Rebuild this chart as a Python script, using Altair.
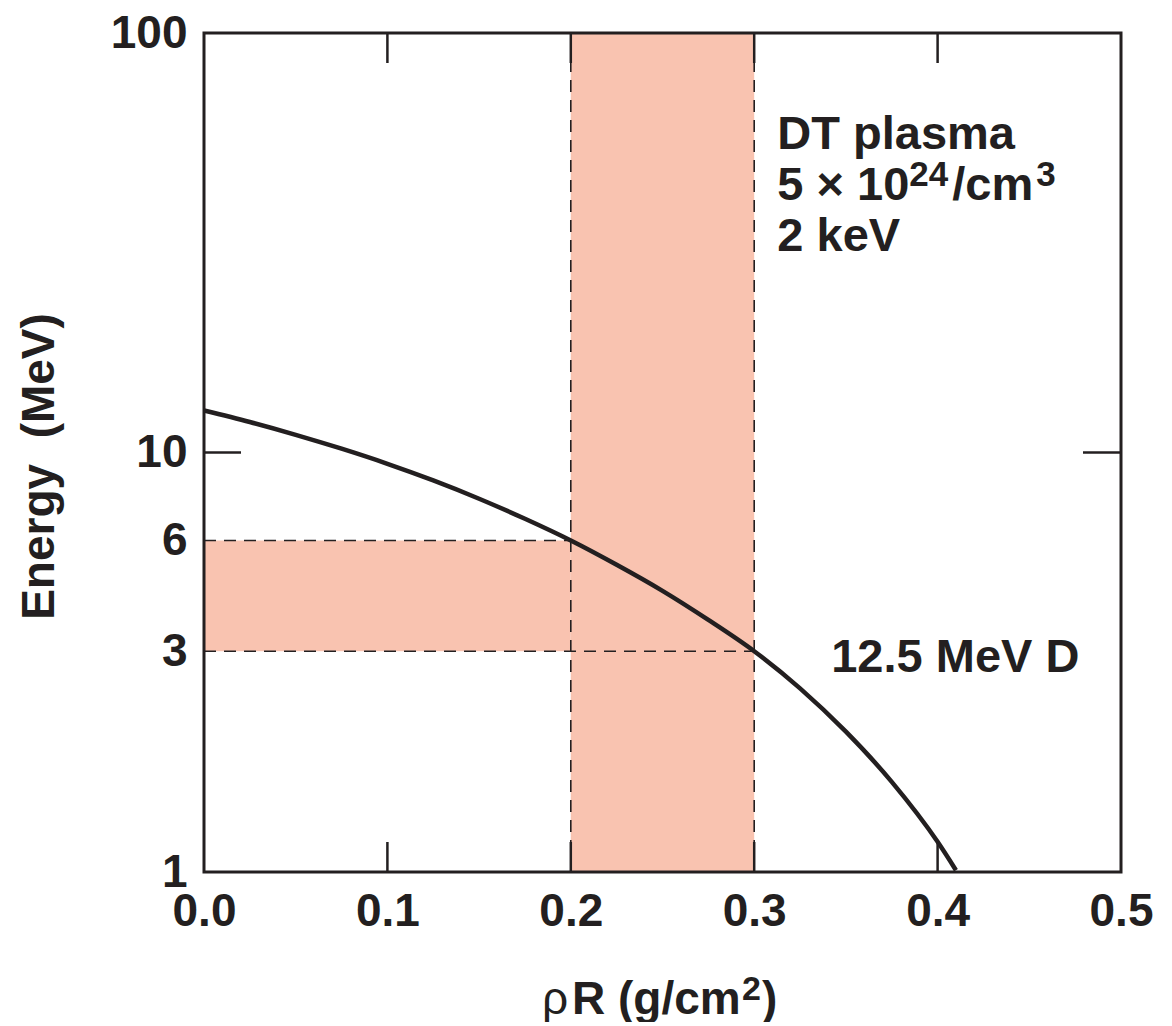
import altair as alt
import pandas as pd

# ---- data ----
rho_R = [0.0, 0.025, 0.05, 0.075, 0.10, 0.125, 0.15, 0.175, 0.20, 0.225, 0.25, 0.275,
         0.30, 0.325, 0.35, 0.375, 0.40, 0.41]
energy = [12.59, 11.82, 11.02, 10.21, 9.40, 8.58, 7.76, 6.95, 6.17, 5.40, 4.68, 3.99,
          3.36, 2.74, 2.16, 1.64, 1.18, 1.01]

x_ticks = [0.0, 0.1, 0.2, 0.3, 0.4, 0.5]
inner_x_ticks = [0.1, 0.2, 0.3, 0.4]
y_tick_values = [1, 3.36, 6.17, 10, 100]
y_tick_labels = ["1", "3", "6", "10", "100"]
inner_y_ticks = [10]

x_domain = [0.0, 0.5]
y_domain = [1, 100]
rho_band = [0.2, 0.3]
energy_band = [3.36, 6.17]

plasma_lines = ["DT plasma", "2 keV"]
plasma_line_x = [0.3126, 0.3126]
plasma_line_y = [53.0, 30.27]
density_parts = ["5 × 10", "24", "/cm", "3"]
density_x = 0.3126
density_y = 40.06
curve_label = "12.5 MeV D"
curve_label_x = 0.342
curve_label_y = 3.0
x_title_parts = ["ρ", "R (g/cm", "2", ")"]
y_title = "Energy\u00a0 (MeV)"

INK = "#231f20"
FILL = "#f9c3b0"
FONT = "Liberation Sans"
W, H = 917, 839

label_expr = " : ".join(
    f"abs(datum.value - {v}) < 1e-6 ? '{t}'" for v, t in zip(y_tick_values, y_tick_labels)
) + " : ''"

xs = alt.Scale(domain=x_domain, nice=False, zero=False)
ys = alt.Scale(type="log", domain=y_domain, nice=False)

x_axis = alt.Axis(
    values=x_ticks, format=".1f", ticks=False, domain=False, grid=False,
    labelFont=FONT, labelFontSize=46, labelFontWeight="bold", labelColor=INK,
    labelPadding=17, labelOverlap=False, labelFlush=False,
    title=None,
)
y_axis = alt.Axis(
    values=y_tick_values, labelExpr=label_expr, ticks=False, domain=False, grid=False,
    labelFont=FONT, labelFontSize=46, labelFontWeight="bold", labelColor=INK,
    labelPadding=17, labelOverlap=False, labelFlush=False,
    title=y_title, titleFont=FONT, titleFontSize=46, titleFontWeight="bold",
    titleColor=INK, titleAngle=270, titleAlign="center", titleBaseline="alphabetic",
    titleX=-151, titleY=433,
)


def X(f):
    return alt.X(f, type="quantitative", scale=xs, axis=x_axis)


def Y(f):
    return alt.Y(f, type="quantitative", scale=ys, axis=y_axis)


vband_df = pd.DataFrame({"x": [rho_band[0]], "x2": [rho_band[1]], "y": [y_domain[0]], "y2": [y_domain[1]]})
hband_df = pd.DataFrame({"x": [x_domain[0]], "x2": [rho_band[0]], "y": [energy_band[0]], "y2": [energy_band[1]]})

vband = alt.Chart(vband_df).mark_rect(color=FILL).encode(x=X("x"), x2="x2", y=Y("y"), y2="y2")
hband = alt.Chart(hband_df).mark_rect(color=FILL).encode(x=X("x"), x2="x2", y=Y("y"), y2="y2")

vdash_df = pd.DataFrame({"x": rho_band, "y": [y_domain[0]] * 2, "y2": [y_domain[1]] * 2})
vdash = alt.Chart(vdash_df).mark_rule(color=INK, strokeWidth=1.6, strokeDash=[12, 8]).encode(
    x=X("x"), y=Y("y"), y2="y2")

hdash_df = pd.DataFrame({"y": [energy_band[1], energy_band[0]], "x": [x_domain[0]] * 2, "x2": rho_band})
hdash = alt.Chart(hdash_df).mark_rule(color=INK, strokeWidth=1.6, strokeDash=[12, 8]).encode(
    x=X("x"), x2="x2", y=Y("y"))

curve_df = pd.DataFrame({"rho": rho_R, "E": energy})
curve = alt.Chart(curve_df).mark_line(color=INK, strokeWidth=4.5, interpolate="monotone").encode(
    x=X("rho"), y=Y("E"))

xt_df = pd.DataFrame({"x": inner_x_ticks})
top_ticks = alt.Chart(xt_df).mark_tick(color=INK, orient="vertical", size=30, thickness=2.5, opacity=1).encode(
    x=X("x"), y=alt.value(15))
bot_ticks = alt.Chart(xt_df).mark_tick(color=INK, orient="vertical", size=30, thickness=2.5, opacity=1).encode(
    x=X("x"), y=alt.value(H - 15))

yt_df = pd.DataFrame({"y": inner_y_ticks})
left_ticks = alt.Chart(yt_df).mark_tick(color=INK, orient="horizontal", size=37, thickness=2.5, opacity=1).encode(
    y=Y("y"), x=alt.value(18.5))
right_ticks = alt.Chart(yt_df).mark_tick(color=INK, orient="horizontal", size=38, thickness=2.5, opacity=1).encode(
    y=Y("y"), x=alt.value(W - 19))

frame_df = pd.DataFrame({"x": [x_domain[0]], "x2": [x_domain[1]], "y": [y_domain[0]], "y2": [y_domain[1]]})
frame = alt.Chart(frame_df).mark_rect(fill=None, stroke=INK, strokeWidth=3).encode(
    x=X("x"), x2="x2", y=Y("y"), y2="y2")

txt_style = dict(align="left", baseline="alphabetic", font=FONT, color=INK)

plasma_df = pd.DataFrame({"x": plasma_line_x, "y": plasma_line_y, "t": plasma_lines})
plasma_txt = alt.Chart(plasma_df).mark_text(fontSize=47, fontWeight="bold", **txt_style).encode(
    x=X("x"), y=Y("y"), text="t:N")


def dens_df(i):
    return pd.DataFrame({"x": [density_x], "y": [density_y], "t": [density_parts[i]]})


dens0 = alt.Chart(dens_df(0)).mark_text(fontSize=47, fontWeight="bold", **txt_style).encode(
    x=X("x"), y=Y("y"), text="t:N")
dens1 = alt.Chart(dens_df(1)).mark_text(fontSize=35, fontWeight="bold", dx=132, dy=-14, **txt_style).encode(
    x=X("x"), y=Y("y"), text="t:N")
dens2 = alt.Chart(dens_df(2)).mark_text(fontSize=47, fontWeight="bold", dx=175, **txt_style).encode(
    x=X("x"), y=Y("y"), text="t:N")
dens3 = alt.Chart(dens_df(3)).mark_text(fontSize=35, fontWeight="bold", dx=259, dy=-14, **txt_style).encode(
    x=X("x"), y=Y("y"), text="t:N")

clabel_df = pd.DataFrame({"x": [curve_label_x], "y": [curve_label_y], "t": [curve_label]})
clabel = alt.Chart(clabel_df).mark_text(fontSize=47, fontWeight="bold", **txt_style).encode(
    x=X("x"), y=Y("y"), text="t:N")


# x-axis title built from pieces (regular rho, bold rest, superscript 2)
def xt_df(i):
    return pd.DataFrame({"t": [x_title_parts[i]]})


XT_X, XT_Y = 338, H + 142
xt0 = alt.Chart(xt_df(0)).mark_text(fontSize=46, fontWeight="normal", **txt_style).encode(
    x=alt.value(XT_X), y=alt.value(XT_Y), text="t:N")
xt1 = alt.Chart(xt_df(1)).mark_text(fontSize=46, fontWeight="bold", dx=30, **txt_style).encode(
    x=alt.value(XT_X), y=alt.value(XT_Y), text="t:N")
xt2 = alt.Chart(xt_df(2)).mark_text(fontSize=34, fontWeight="bold", dx=200, dy=-14, **txt_style).encode(
    x=alt.value(XT_X), y=alt.value(XT_Y), text="t:N")
xt3 = alt.Chart(xt_df(3)).mark_text(fontSize=46, fontWeight="bold", dx=220, **txt_style).encode(
    x=alt.value(XT_X), y=alt.value(XT_Y), text="t:N")

chart = alt.layer(
    vband, hband, vdash, hdash, curve, top_ticks, bot_ticks, left_ticks, right_ticks, frame,
    plasma_txt, dens0, dens1, dens2, dens3, clabel, xt0, xt1, xt2, xt3,
).properties(
    width=W, height=H,
    autosize=alt.AutoSizeParams(type="none"),
    padding={"left": 196, "top": 25, "right": 40, "bottom": 150},
).configure_view(stroke=None)

chart.save("out.html", embed_options={"renderer": "svg", "actions": False})
